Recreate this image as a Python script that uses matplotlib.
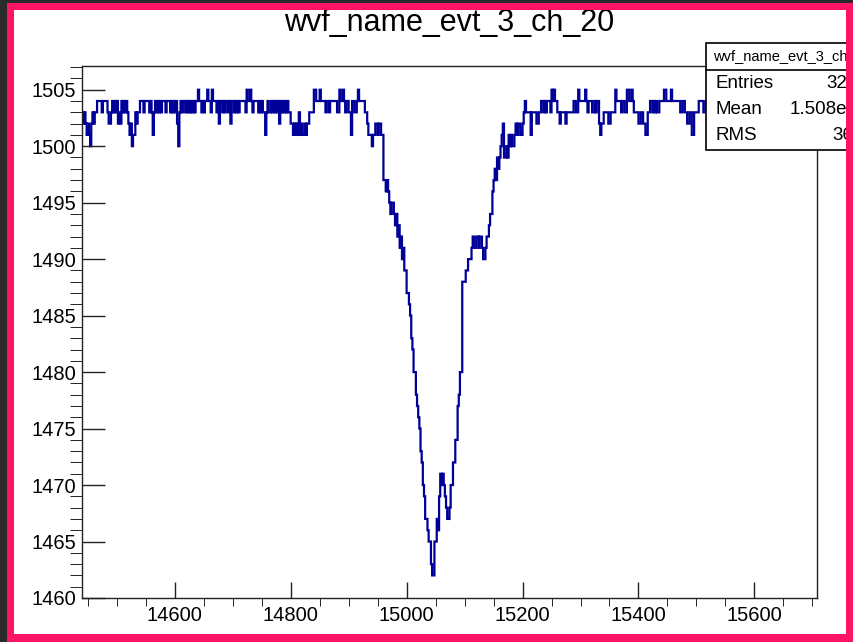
import numpy as np
import matplotlib
matplotlib.use("Agg")
import matplotlib.pyplot as plt
from matplotlib.patches import Rectangle
from matplotlib.ticker import MultipleLocator

# waveform data, ADC counts per sample
x_start = 14440
x_stop = 15708
bin_width = 2
# baseline before the pulse, digits are counts above 1500
noise_before = ("323212102323" "34" "44434444" "3223" "43434232434343" "212011"
                "3233" "44434444" "3431" "34343434" "443444" "343434" "20"
                "3434434343434344" "54434344544354" "443424434344342443434344"
                "444354454344" "443434331343" "3434343424343434"
                "332212121312112122" "3333" "554445" "444434434444443354454344"
                "331443345444" "4433" "21110112212211")
pulse = [1497, 1497, 1496, 1497, 1496, 1495, 1494, 1495, 1495, 1494,
         1493, 1494, 1492, 1493, 1491, 1492, 1490, 1491, 1489, 1489,
         1487, 1487, 1486, 1485, 1483, 1482, 1480, 1480, 1478, 1477,
         1476, 1475, 1473, 1472, 1470, 1469, 1467, 1467, 1466, 1465,
         1465, 1463, 1462, 1462, 1465, 1465, 1467, 1466, 1469, 1471,
         1470, 1471, 1470, 1469, 1468, 1467, 1467, 1468, 1470, 1470,
         1472, 1472, 1474, 1474, 1477, 1478, 1480, 1480, 1488, 1488,
         1488, 1489, 1489, 1490, 1490, 1490, 1491, 1492, 1491, 1491,
         1492, 1492, 1491, 1492, 1492, 1491, 1490, 1490, 1491, 1492,
         1492, 1493, 1494, 1494, 1496, 1497, 1498, 1497, 1499, 1498,
         1499, 1500, 1501, 1502, 1499, 1499, 1500, 1499, 1501, 1500,
         1501, 1500, 1500, 1501, 1502, 1501, 1502, 1502, 1501, 1501,
         1502, 1503]
noise_after = ("43333133332233" "443434443545" "443323333233" "33334433"
               "544444543444334344" "2122" "3333223333" "5444434433554454"
               "333322332211" "33443434334444" "554444544444" "443344"
               "33223311" "333344443344"
               "4334344344343343" "3334445543543433" "4344343344343443"
               "3443434434434343" "4434433434434344" "44343434343443")

title = "wvf_name_evt_3_ch_20"
stat_names = ["Entries", "Mean", "RMS"]
stat_values = ["32768", "1.508e+04", "367.4"]

values = [1500 + int(c) for c in noise_before] + pulse + [1500 + int(c) for c in noise_after]
edges = x_start + bin_width * np.arange(len(values) + 1)

plt.rcParams["font.family"] = ["Liberation Sans", "DejaVu Sans"]

W, H = 854, 642
fig = plt.figure(figsize=(W / 100, H / 100), dpi=100)
fig.patch.set_facecolor("white")

ax = fig.add_axes([82 / W, 1 - 598 / H, (817 - 82) / W, (598 - 66) / H])
ax.stairs(values, edges, baseline=None, color="#000099", lw=1.6)

ax.set_xlim(x_start, x_stop)
ax.set_ylim(1460, 1507.1)

ax.xaxis.set_major_locator(MultipleLocator(200))
ax.xaxis.set_minor_locator(MultipleLocator(50))
ax.yaxis.set_major_locator(MultipleLocator(5))
ax.yaxis.set_minor_locator(MultipleLocator(1))
ax.tick_params(direction="in", top=False, right=False, labelsize=14.5, width=1, color="#222222")
ax.tick_params(axis="x", which="major", length=11.5, pad=6)
ax.tick_params(axis="x", which="minor", length=5.8)
ax.tick_params(axis="y", which="major", length=16.5, pad=4)
ax.tick_params(axis="y", which="minor", length=8.6)
for s in ax.spines.values():
    s.set_color("#222222")
    s.set_linewidth(1)

fig.text(449.5 / W, 1 - 31 / H, title, ha="center", va="baseline", fontsize=22)

# stats box (runs off the right edge like in the canvas)
bx0, bx1, by0, by1 = 706, 885, 43, 150
fig.patches.append(Rectangle((bx0 / W, 1 - by1 / H), (bx1 - bx0) / W, (by1 - by0) / H,
                             transform=fig.transFigure, facecolor="white",
                             edgecolor="black", lw=1.2, zorder=5))
fig.add_artist(plt.Line2D([bx0 / W, bx1 / W], [1 - 70 / H, 1 - 70 / H],
                          transform=fig.transFigure, color="black", lw=1.2, zorder=6))
fig.text(713 / W, 1 - 56 / H, title, ha="left", va="center",
         fontsize=10.5, zorder=7)
for k, (name, val) in enumerate(zip(stat_names, stat_values)):
    yy = 1 - (84 + 26 * k) / H
    fig.text(716 / W, yy, name, ha="left", va="center", fontsize=13.5, zorder=7)
    fig.text(879 / W, yy, val, ha="right", va="center", fontsize=13.5, zorder=7)

# screenshot frame
dark = "#2a2a2a"
pink = "#fe1466"
for (x0, y0, w, h, c) in [(0, 0, 7, H, dark), (0, 0, W, 3, dark),
                          (7, 3, 7, H - 3, pink), (7, 3, W - 7, 7, pink),
                          (846, 3, 8, H - 3, pink), (7, 634, W - 7, 8, pink)]:
    fig.patches.append(Rectangle((x0 / W, 1 - (y0 + h) / H), w / W, h / H,
                                 transform=fig.transFigure, facecolor=c,
                                 edgecolor="none", zorder=10))

fig.savefig("out.png", dpi=100)
